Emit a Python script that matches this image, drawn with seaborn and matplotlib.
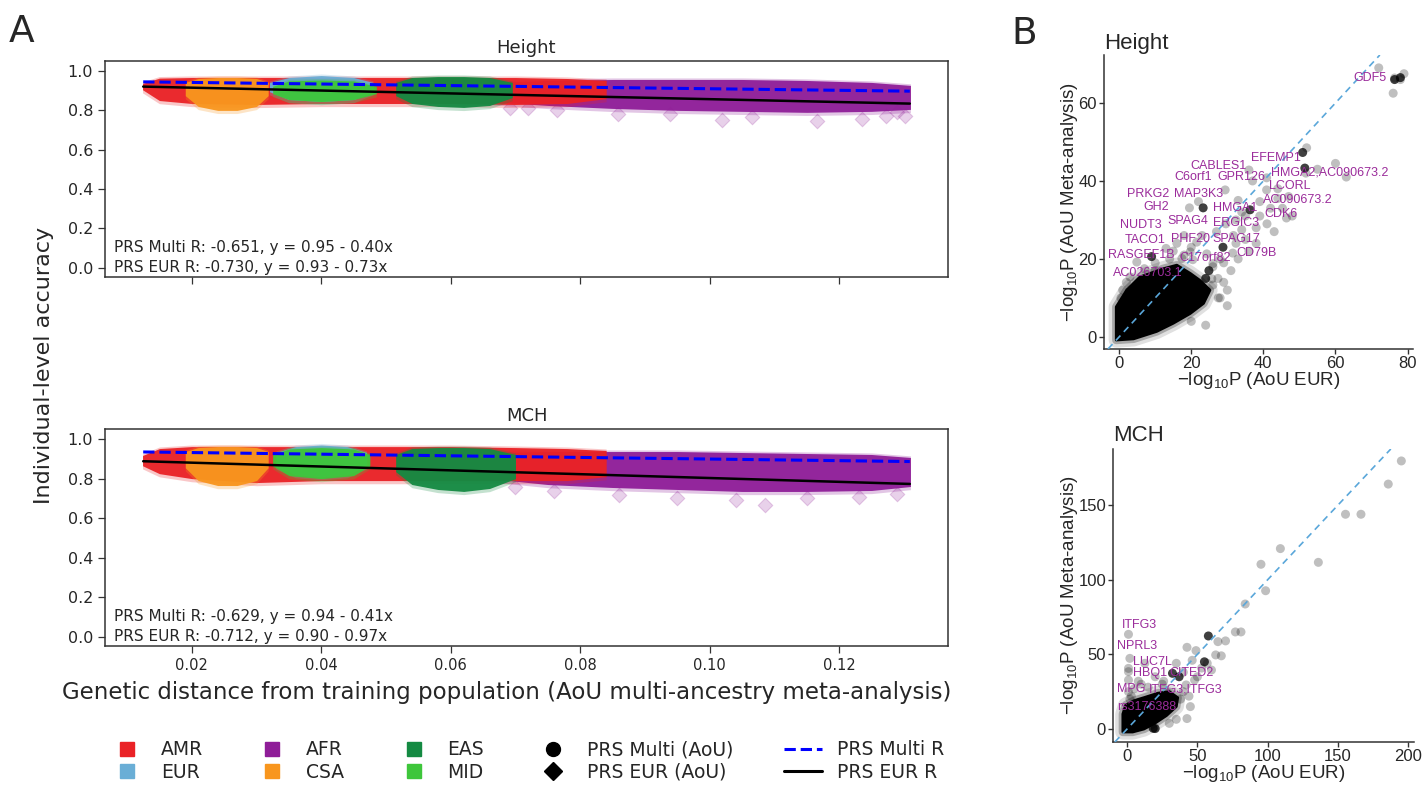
import numpy as np
import matplotlib
matplotlib.use("Agg")
import matplotlib.pyplot as plt
import seaborn as sns
from matplotlib.lines import Line2D
from matplotlib.patches import Polygon

# ======================= DATA =======================
# ---- Panel A : Height, population clouds (x = genetic distance, envelope of accuracy)
H_AFR_X = [0.0660, 0.0750, 0.0850, 0.0950, 0.1050, 0.1150, 0.1250, 0.1310]
H_AFR_TOP = [0.950, 0.960, 0.965, 0.965, 0.965, 0.960, 0.950, 0.935]
H_AFR_BOT = [0.845, 0.825, 0.810, 0.800, 0.795, 0.790, 0.795, 0.805]
H_AMR_X = [0.0124, 0.0150, 0.0200, 0.0300, 0.0400, 0.0500, 0.0600, 0.0700, 0.0780, 0.0840]
H_AMR_TOP = [0.945, 0.972, 0.975, 0.975, 0.975, 0.975, 0.975, 0.975, 0.970, 0.960]
H_AMR_BOT = [0.905, 0.850, 0.835, 0.830, 0.835, 0.835, 0.835, 0.830, 0.835, 0.860]
H_EUR_X = [0.0320, 0.0350, 0.0400, 0.0450, 0.0480]
H_EUR_TOP = [0.950, 0.975, 0.985, 0.975, 0.950]
H_EUR_BOT = [0.895, 0.855, 0.845, 0.855, 0.895]
H_CSA_X = [0.0190, 0.0210, 0.0240, 0.0270, 0.0300, 0.0318]
H_CSA_TOP = [0.950, 0.970, 0.975, 0.975, 0.970, 0.950]
H_CSA_BOT = [0.875, 0.820, 0.800, 0.800, 0.820, 0.875]
H_MID_X = [0.0325, 0.0350, 0.0400, 0.0450, 0.0485]
H_MID_TOP = [0.930, 0.958, 0.962, 0.958, 0.930]
H_MID_BOT = [0.885, 0.855, 0.845, 0.855, 0.885]
H_EAS_X = [0.0515, 0.0540, 0.0580, 0.0620, 0.0660, 0.0695]
H_EAS_TOP = [0.950, 0.975, 0.980, 0.980, 0.975, 0.950]
H_EAS_BOT = [0.875, 0.835, 0.820, 0.815, 0.825, 0.865]
H_AFR_OUT_X = [0.0691, 0.0719, 0.0764, 0.0858, 0.0938, 0.1019, 0.1065, 0.1165, 0.1235, 0.1273, 0.1301, 0.1289]
H_AFR_OUT_Y = [0.812, 0.812, 0.800, 0.780, 0.780, 0.750, 0.765, 0.748, 0.757, 0.770, 0.770, 0.790]

# ---- Panel A : MCH
M_AFR_X = [0.0660, 0.0750, 0.0850, 0.0950, 0.1050, 0.1150, 0.1250, 0.1310]
M_AFR_TOP = [0.940, 0.945, 0.945, 0.945, 0.940, 0.935, 0.930, 0.915]
M_AFR_BOT = [0.800, 0.770, 0.755, 0.745, 0.735, 0.735, 0.740, 0.760]
M_AMR_X = [0.0124, 0.0150, 0.0200, 0.0300, 0.0400, 0.0500, 0.0600, 0.0700, 0.0780, 0.0840]
M_AMR_TOP = [0.925, 0.960, 0.970, 0.970, 0.970, 0.970, 0.970, 0.965, 0.960, 0.950]
M_AMR_BOT = [0.865, 0.825, 0.800, 0.780, 0.790, 0.790, 0.790, 0.790, 0.790, 0.810]
M_EUR_X = [0.0330, 0.0360, 0.0400, 0.0440, 0.0470]
M_EUR_TOP = [0.940, 0.970, 0.978, 0.970, 0.940]
M_EUR_BOT = [0.865, 0.820, 0.810, 0.820, 0.865]
M_CSA_X = [0.0190, 0.0210, 0.0240, 0.0270, 0.0300, 0.0318]
M_CSA_TOP = [0.945, 0.965, 0.970, 0.970, 0.965, 0.945]
M_CSA_BOT = [0.855, 0.790, 0.765, 0.765, 0.790, 0.855]
M_MID_X = [0.0325, 0.0350, 0.0400, 0.0450, 0.0475]
M_MID_TOP = [0.930, 0.958, 0.965, 0.958, 0.930]
M_MID_BOT = [0.865, 0.815, 0.800, 0.815, 0.865]
M_EAS_X = [0.0515, 0.0540, 0.0580, 0.0620, 0.0660, 0.0700]
M_EAS_TOP = [0.930, 0.960, 0.965, 0.965, 0.960, 0.930]
M_EAS_BOT = [0.835, 0.770, 0.745, 0.735, 0.750, 0.800]
M_AFR_OUT_X = [0.0700, 0.0760, 0.0860, 0.0950, 0.1040, 0.1085, 0.1150, 0.1230, 0.1290]
M_AFR_OUT_Y = [0.755, 0.735, 0.715, 0.700, 0.690, 0.665, 0.700, 0.705, 0.720]

# ---- Panel A : regression lines (range and printed coefficients)
LINE_X = [0.0125, 0.1309]
H_MULTI_COEF = (0.95, -0.40)
H_EUR_COEF = (0.93, -0.73)
M_MULTI_COEF = (0.94, -0.41)
M_EUR_COEF = (0.90, -0.97)
H_TEXT = ["PRS Multi R: -0.651, y = 0.95 - 0.40x", "PRS EUR R: -0.730, y = 0.93 - 0.73x"]
M_TEXT = ["PRS Multi R: -0.629, y = 0.94 - 0.41x", "PRS EUR R: -0.712, y = 0.90 - 0.97x"]
A_XTICKS = [0.02, 0.04, 0.06, 0.08, 0.10, 0.12]
A_YTICKS = [0.0, 0.2, 0.4, 0.6, 0.8, 1.0]

# ---- Panel B : Height
HB_CORE_X = [-0.8, -0.8, 2.1, 5.8, 12.3, 16.0, 19.7, 22.4, 25.2, 23.4, 19.7, 15.0, 10.4, 4.0]
HB_CORE_Y = [-0.8, 7.7, 12.0, 15.4, 17.5, 18.4, 16.3, 14.5, 12.0, 8.6, 6.0, 3.5, 1.4, -0.5]
HB_X = [72, 76.4, 78, 79, 76, 52, 51.8, 60, 63, 36, 29.4, 40.9, 40.9, 39, 22, 19.5,
        46.4, 44, 45.3, 48, 41, 32.4, 29.6, 34, 31.7, 32.4, 31.5, 26, 20.4, 13, 25.7,
        27.5, 30, 20, 16, 35, 38, 43, 27, 33, 37, 28, 18, 14, 10, 6, 3, 8, 24, 29,
        17.4, 19.7, 21.5, 24.3, 26, 26, 27.4, 4.9, 3, 7, 10, 28, 30, 22, 20, 12,
        33, 36, 38, 42, 35, 31, 29, 23, 18, 1, 2, 0.5, 15, 34, 44, 39, 47, 55]
HB_Y = [69, 66.4, 66, 67.5, 62.5, 48.5, 42, 44.5, 41, 42.8, 37.7, 40.8, 37.7, 34.7, 34.7, 33.1,
        30.5, 35.5, 33, 31, 29, 30, 29, 27.5, 26, 24, 21.5, 18, 19.8, 22.7, 14.9,
        10, 12, 23, 24, 25, 28, 27, 27, 35, 40, 20, 21, 20, 17, 14, 12, 3, 3, 14,
        20.1, 21.8, 24.3, 21.3, 18.8, 13.3, 15, 19.2, 15.4, 17.5, 19, 10, 8, 10, 4, 5,
        20, 22, 24, 33, 31, 17, 19, 26, 26, 12, 14, 10, 22, 32, 38, 31, 36, 43]
HB_DARK_X = [50.9, 51.5, 36.3, 23.3, 9, 24.9, 28.8, 24, 76.4, 78]
HB_DARK_Y = [47.3, 43.3, 32.6, 33.1, 20.6, 17, 23, 15, 66, 66.5]
HB_LABELS = ["GDF5", "EFEMP1", "CABLES1", "HMGA2,AC090673.2", "C6orf1", "GPR126", "LCORL",
             "PRKG2", "MAP3K3", "AC090673.2", "GH2", "HMGA1", "CDK6", "NUDT3", "SPAG4",
             "ERGIC3", "TACO1", "PHF20", "SPAG17", "RASGEF1B", "C17orf82", "CD79B", "AC026703.1"]
HB_LAB_X = [64.9, 36.5, 19.7, 42.0, 15.3, 27.3, 41.6, 2.1, 15.3, 39.8, 6.7, 26.0, 40.3, 0.3,
            13.4, 26.1, 1.5, 14.3, 26.0, -3.2, 16.7, 32.4, -1.7]
HB_LAB_Y = [66.4, 46.0, 43.9, 42.2, 40.9, 40.9, 38.8, 36.7, 36.7, 35.0, 33.2, 33.1, 31.4, 28.6,
            29.7, 29.2, 24.9, 25.2, 25.2, 20.9, 20.3, 21.6, 16.4]

# ---- Panel B : MCH
MB_CORE_X = [-3, -3, -1, 5, 12, 22, 30, 36, 35, 28, 20, 12, 4]
MB_CORE_Y = [-2, 10, 16, 19, 21, 24, 25, 21, 15, 9, 4, 0, -2]
MB_X = [195, 185.7, 155.3, 166.3, 136, 109, 95.2, 98.5, 84, 81, 77, 70, 64.6, 42.6, 49,
        46.3, 63, 67, 57, 53, 60, 35, 1, 2, 1, 1, 1, 12.6, 42, 48, 29, 30, 35, 42.6, 15,
        5, 3, 10, 20, 25, 38, 45, 40, 50, 1, 2, 8, 15, 40, 44, 26, 30]
MB_Y = [179.5, 164, 143.8, 143.8, 111.6, 120.8, 110.3, 92.6, 83.7, 65, 65, 59, 58.5, 54.7, 52.5,
        46, 49.6, 49, 44, 40.8, 39.5, 44, 63.4, 47.3, 40.6, 38.4, 32.8, 44, 29.5, 32.8, 24, 3.8, 6.5, 7, 8.7,
        27, 22, 30, 35, 30, 20, 15, 38, 35, 25, 20, 32, 28, 25, 22, 32, 15]
MB_DARK_X = [57.8, 32.3, 37, 18.6, 20, 55]
MB_DARK_Y = [62.3, 37.3, 35, 0.5, 0.3, 45]
MB_LABELS = ["ITFG3", "NPRL3", "LUC7L", "HBQ1", "CITED2", "MPG", "ITFG3,ITFG3", "rs3176388"]
MB_LAB_X = [-3.7, -7.2, 4.4, 4.0, 30.0, -7.2, 15.5, -7.2]
MB_LAB_Y = [69.7, 55.6, 45.0, 37.3, 37.3, 26.6, 26.6, 14.5]

POP_ORDER = ["AMR", "EUR", "AFR", "CSA", "EAS", "MID"]

# ======================= STYLE =======================
COLORS = {"AMR": "#ea2226", "EUR": "#6aaed6", "AFR": "#8f1d98",
          "CSA": "#f8961e", "EAS": "#148a42", "MID": "#3ec63b"}
LABEL_PURPLE = "#9b2c9b"
FRINGE_HI = 0.008   # light halo above the solid core
FRINGE_LO = 0.016   # light halo below the solid core

sns.set_style("white")
plt.rcParams["font.family"] = ["DejaVu Sans"]
plt.rcParams["mathtext.fontset"] = "custom"
plt.rcParams["mathtext.rm"] = "Liberation Sans"
plt.rcParams["mathtext.it"] = "Liberation Sans:italic"
plt.rcParams["mathtext.default"] = "regular"

W, H = 1424, 787
fig = plt.figure(figsize=(W / 100, H / 100), dpi=100)


def fx(px):
    return px / W


def fy(py):
    return 1 - py / H


def band(ax, x, top, bot, color, z):
    x = np.asarray(x)
    top = np.asarray(top)
    bot = np.asarray(bot)
    ax.fill_between(x, bot - FRINGE_LO, top, color=color, alpha=0.25, lw=0, zorder=z)
    ctop = top - FRINGE_HI
    cbot = np.minimum(bot, ctop)
    ax.fill_between(x, cbot, ctop, color=color, alpha=0.95, lw=0, zorder=z + 0.1)


def panel_a(ax, bands, out_x, out_y, out_color, mcoef, ecoef, texts, title, show_xlabels):
    z = 2
    for (x, t, b, c) in bands:
        band(ax, x, t, b, c, z)
        z += 0.2
    sns.scatterplot(x=out_x, y=out_y, marker="D", s=55, color=out_color, alpha=0.2,
                    edgecolor=out_color, linewidth=0.8, ax=ax, zorder=1.5, legend=False)
    lx = np.array(LINE_X)
    sns.lineplot(x=lx, y=mcoef[0] + mcoef[1] * lx, color="#0000ff", linestyle="--", lw=2.2,
                 ax=ax, zorder=10)
    sns.lineplot(x=lx, y=ecoef[0] + ecoef[1] * lx, color="black", lw=1.8, ax=ax, zorder=11)
    ax.set_xlim(0.0066, 0.1368)
    ax.set_ylim(-0.047, 1.051)
    ax.set_xticks(A_XTICKS)
    ax.set_yticks(A_YTICKS)
    ax.set_yticklabels([f"{v:.1f}" for v in A_YTICKS], fontsize=11.5)
    if show_xlabels:
        ax.set_xticklabels([f"{v:.2f}" for v in A_XTICKS], fontsize=10.5)
    else:
        ax.set_xticklabels([])
    ax.tick_params(direction="out", length=5, width=0.9, color="#333333", bottom=True, left=True)
    for s in ax.spines.values():
        s.set_color("#333333")
        s.set_linewidth(1.1)
    ax.set_title(title, fontsize=13, pad=6)
    ax.text(0.0107, 0.137, texts[0], transform=ax.transAxes, ha="left", va="center", fontsize=11)
    ax.text(0.0107, 0.043, texts[1], transform=ax.transAxes, ha="left", va="center", fontsize=11)
    ax.set_xlabel("")
    ax.set_ylabel("")


ax_h = fig.add_axes([fx(105), fy(277), fx(948) - fx(105), (277 - 61) / H])
ax_m = fig.add_axes([fx(105), fy(646), fx(948) - fx(105), (646 - 429) / H])

panel_a(ax_h,
        [(H_AFR_X, H_AFR_TOP, H_AFR_BOT, COLORS["AFR"]),
         (H_AMR_X, H_AMR_TOP, H_AMR_BOT, COLORS["AMR"]),
         (H_EUR_X, H_EUR_TOP, H_EUR_BOT, COLORS["EUR"]),
         (H_CSA_X, H_CSA_TOP, H_CSA_BOT, COLORS["CSA"]),
         (H_MID_X, H_MID_TOP, H_MID_BOT, COLORS["MID"]),
         (H_EAS_X, H_EAS_TOP, H_EAS_BOT, COLORS["EAS"])],
        H_AFR_OUT_X, H_AFR_OUT_Y, COLORS["AFR"], H_MULTI_COEF, H_EUR_COEF, H_TEXT, "Height", False)
panel_a(ax_m,
        [(M_AFR_X, M_AFR_TOP, M_AFR_BOT, COLORS["AFR"]),
         (M_AMR_X, M_AMR_TOP, M_AMR_BOT, COLORS["AMR"]),
         (M_EUR_X, M_EUR_TOP, M_EUR_BOT, COLORS["EUR"]),
         (M_CSA_X, M_CSA_TOP, M_CSA_BOT, COLORS["CSA"]),
         (M_MID_X, M_MID_TOP, M_MID_BOT, COLORS["MID"]),
         (M_EAS_X, M_EAS_TOP, M_EAS_BOT, COLORS["EAS"])],
        M_AFR_OUT_X, M_AFR_OUT_Y, COLORS["AFR"], M_MULTI_COEF, M_EUR_COEF, M_TEXT, "MCH", True)

fig.text(fx(44), fy(365), "Individual-level accuracy", rotation=90, ha="center", va="center",
         fontsize=16)
fig.text(fx(507), fy(692), "Genetic distance from training population (AoU multi-ancestry meta-analysis)",
         ha="center", va="center", fontsize=16.5)
fig.text(fx(9), fy(42), "A", fontsize=27, ha="left", va="baseline")
fig.text(fx(1011), fy(44), "B", fontsize=27, ha="left", va="baseline")

# legend
handles = []
labels = []
for p in POP_ORDER:
    handles.append(Line2D([], [], marker="s", color=COLORS[p], linestyle="none", markersize=10))
    labels.append(p)
handles.append(Line2D([], [], marker="o", color="black", linestyle="none", markersize=10))
labels.append("PRS Multi (AoU)")
handles.append(Line2D([], [], marker="D", color="black", linestyle="none", markersize=9))
labels.append("PRS EUR (AoU)")
handles.append(Line2D([], [], color="#0000ff", linestyle="--", lw=2.2))
labels.append("PRS Multi R")
handles.append(Line2D([], [], color="black", lw=2.2))
labels.append("PRS EUR R")
fig.legend(handles, labels, ncol=5, loc="center", bbox_to_anchor=(fx(526), fy(761)),
           frameon=False, fontsize=13.5, handlelength=2.0, handletextpad=0.8,
           columnspacing=2.7, labelspacing=0.2)

# ======================= PANEL B =======================
SANS = "Liberation Sans"


def panel_b(ax, core_x, core_y, px, py, dx, dy, labs, lx, ly, title, xlim, ylim, xt, yt, title_pad):
    pts = np.column_stack([core_x, core_y])
    ax.add_patch(Polygon(pts, closed=True, facecolor="black", edgecolor="black", lw=11,
                         joinstyle="round", alpha=0.12, zorder=2))
    ax.add_patch(Polygon(pts, closed=True, facecolor="black", edgecolor="black", lw=6,
                         joinstyle="round", alpha=0.25, zorder=2.05))
    ax.add_patch(Polygon(pts, closed=True, facecolor="black", edgecolor="black", lw=2,
                         joinstyle="round", alpha=1.0, zorder=2.1))
    sns.scatterplot(x=px, y=py, color="black", alpha=0.25, s=42, edgecolor="none", ax=ax,
                    zorder=3, legend=False)
    sns.scatterplot(x=dx, y=dy, color="black", alpha=0.75, s=42, edgecolor="none", ax=ax,
                    zorder=3, legend=False)
    ax.axline((0, 0), slope=1, color="#5aa7da", linestyle=(0, (4, 3)), lw=1.2, zorder=4)
    for t, x, y in zip(labs, lx, ly):
        ax.text(x, y, t, color=LABEL_PURPLE, fontsize=9, ha="left", va="center",
                family=SANS, zorder=6)
    ax.set_xlim(*xlim)
    ax.set_ylim(*ylim)
    ax.set_xticks(xt)
    ax.set_yticks(yt)
    ax.set_xticklabels([str(v) for v in xt], fontsize=12, family=SANS)
    ax.set_yticklabels([str(v) for v in yt], fontsize=12, family=SANS)
    ax.tick_params(direction="out", length=3.5, width=1, color="#333333", bottom=True, left=True,
                   pad=1.5)
    sns.despine(ax=ax)
    for s in ["left", "bottom"]:
        ax.spines[s].set_color("#333333")
        ax.spines[s].set_linewidth(1.1)
    ax.set_xlabel(r"$-$log$_{10}$P (AoU EUR)", fontsize=13.5, family=SANS, labelpad=-1)
    ax.set_ylabel(r"$-$log$_{10}$P (AoU Meta-analysis)", fontsize=13.5, family=SANS, labelpad=-1)
    ax.set_title(title, loc="left", fontsize=16, family=SANS, pad=title_pad)


ax_b1 = fig.add_axes([fx(1104), fy(349), fx(1413) - fx(1104), (349 - 55) / H])
ax_b2 = fig.add_axes([fx(1113), fy(742), fx(1414) - fx(1113), (742 - 449) / H])

panel_b(ax_b1, HB_CORE_X, HB_CORE_Y, HB_X, HB_Y, HB_DARK_X, HB_DARK_Y,
        HB_LABELS, HB_LAB_X, HB_LAB_Y, "Height", (-4.2, 81.5), (-3.1, 72.3),
        [0, 20, 40, 60, 80], [0, 20, 40, 60], 4)
panel_b(ax_b2, MB_CORE_X, MB_CORE_Y, MB_X, MB_Y, MB_DARK_X, MB_DARK_Y,
        MB_LABELS, MB_LAB_X, MB_LAB_Y, "MCH", (-10, 204), (-8.7, 187.5),
        [0, 50, 100, 150, 200], [0, 50, 100, 150], 6)

fig.savefig("out.png", dpi=100)
